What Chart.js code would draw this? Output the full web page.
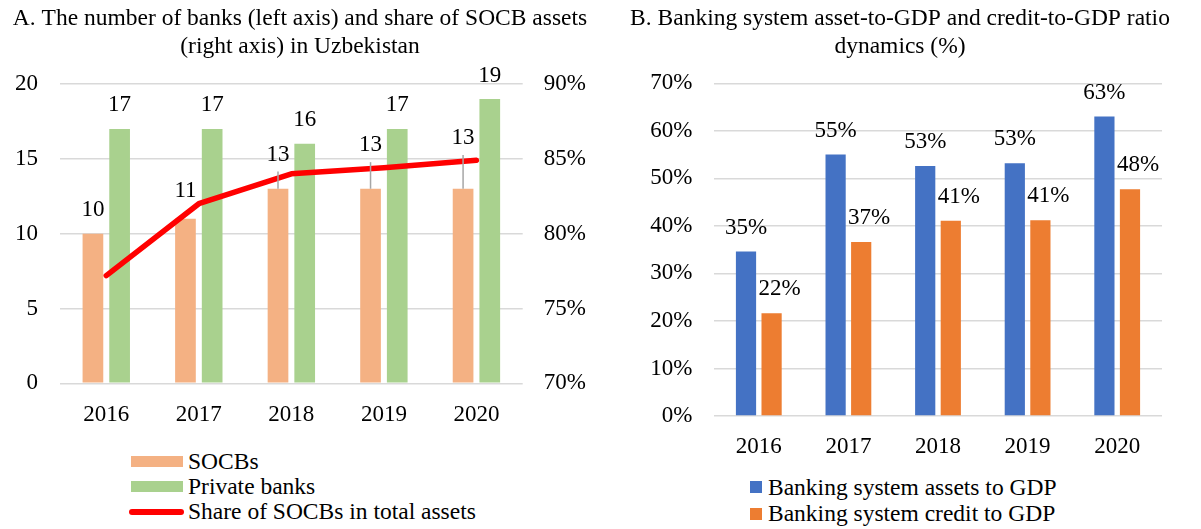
<!DOCTYPE html>
<html>
<head>
<meta charset="utf-8">
<script src="https://cdn.jsdelivr.net/npm/chart.js@4.4.1/dist/chart.umd.min.js"></script>
<style>
  body { margin: 0; background: #fff; width: 1201px; height: 529px; position: relative; overflow: hidden;
         font-family: 'Liberation Serif', 'Times New Roman', serif; color: #000; }
  .chart { position: absolute; top: 0; }
  .legend { position: absolute; font-size: 23.5px; }
  .legend .row { display: flex; align-items: center; white-space: nowrap; }
  .swatch { flex: none; }
</style>
</head>
<body>
<div class="chart" style="left:0;width:600px;height:440px"><canvas id="banksChart"></canvas></div>
<div class="chart" style="left:600px;width:600px;height:473px"><canvas id="ratioChart"></canvas></div>

<div class="legend" style="left:131px;top:449px">
  <div class="row" style="height:25px"><span class="swatch" style="width:52px;height:11px;background:#f4b183;margin-right:5px"></span>SOCBs</div>
  <div class="row" style="height:25px"><span class="swatch" style="width:52px;height:11px;background:#a9d18e;margin-right:5px"></span>Private banks</div>
  <div class="row" style="height:25px"><span class="swatch" style="width:55px;height:6px;border-radius:3px;background:#ff0000;margin-left:-2px;margin-right:4px"></span>Share of SOCBs in total assets</div>
</div>
<div class="legend" style="left:750px;top:474px">
  <div class="row" style="height:26.5px"><span class="swatch" style="width:12px;height:12px;background:#4472c4;margin-right:6px"></span>Banking system assets to GDP</div>
  <div class="row" style="height:26.5px"><span class="swatch" style="width:12px;height:12px;background:#ed7d31;margin-right:6px"></span>Banking system credit to GDP</div>
</div>

<script>
const years = ['2016', '2017', '2018', '2019', '2020'];

// panel A: number of banks and SOCB share of assets
const socbBanks = [10, 11, 13, 13, 13];
const privateBanks = [17, 17, 16, 17, 19];
const socbAssetShare = [77.2, 82.0, 84.0, 84.4, 84.9];

// panel B: banking system ratios to GDP, %
const assetsToGdp = [34.6, 55.0, 52.6, 53.2, 63.0];
const creditToGdp = [21.6, 36.6, 41.1, 41.2, 47.7];

const FONT = 'Liberation Serif';
const tickFont = { family: FONT, size: 23 };
const titleFont = { family: FONT, size: 23.5, weight: 'normal', lineHeight: '28px' };
Chart.defaults.font.family = FONT;
Chart.defaults.color = '#000';

// value labels above bars; lifted over a line dataset when it runs above the bar,
// with a thin leader line back down to the bar
const barLabels = {
  id: 'barLabels',
  afterDatasetsDraw(chart, args, opts) {
    const ctx = chart.ctx;
    const lineMeta = opts.avoid != null ? chart.getDatasetMeta(opts.avoid).data : null;
    const lineYAt = (x) => {
      if (!lineMeta) return null;
      for (let k = 0; k < lineMeta.length - 1; k++) {
        const a = lineMeta[k], b = lineMeta[k + 1];
        if (x >= a.x && x <= b.x) return a.y + (b.y - a.y) * (x - a.x) / (b.x - a.x);
      }
      return null;
    };
    ctx.save();
    ctx.font = `23px "${FONT}"`;
    ctx.fillStyle = '#000';
    ctx.textAlign = 'center';
    ctx.textBaseline = 'middle';
    chart.data.datasets.forEach((ds, i) => {
      if (ds.type === 'line') return;
      const shift = (opts.shift && opts.shift[i]) || 0;
      chart.getDatasetMeta(i).data.forEach((bar, j) => {
        const top = bar.y;
        const ly = lineYAt(bar.x);
        const anchor = ly != null ? Math.min(top, ly) : top;
        const y = anchor - opts.gap;
        if (top - anchor > 10) {
          ctx.strokeStyle = '#a6a6a6';
          ctx.lineWidth = 1.5;
          ctx.beginPath();
          ctx.moveTo(bar.x, y + 17);
          ctx.lineTo(bar.x, top);
          ctx.stroke();
        }
        ctx.fillText(opts.format(ds.data[j]), bar.x + shift, y);
      });
    });
    ctx.restore();
  }
};

const gridStyle = { color: '#d9d9d9', lineWidth: 1.5, drawTicks: false };

new Chart(document.getElementById('banksChart'), {
  type: 'bar',
  plugins: [barLabels],
  data: {
    labels: years,
    datasets: [
      { label: 'SOCBs', data: socbBanks, backgroundColor: '#f4b183', yAxisID: 'y',
        categoryPercentage: 0.577, barPercentage: 0.775 },
      { label: 'Private banks', data: privateBanks, backgroundColor: '#a9d18e', yAxisID: 'y',
        categoryPercentage: 0.577, barPercentage: 0.775 },
      { type: 'line', label: 'Share of SOCBs in total assets', data: socbAssetShare, yAxisID: 'y1',
        borderColor: '#ff0000', borderWidth: 5.5, pointRadius: 0, tension: 0,
        borderCapStyle: 'round', borderJoinStyle: 'round', order: -1 }
    ]
  },
  options: {
    responsive: true,
    maintainAspectRatio: false,
    animation: false,
    layout: { padding: 0 },
    plugins: {
      legend: { display: false },
      tooltip: { enabled: false },
      title: {
        display: true,
        text: ['A. The number of banks (left axis) and share of SOCB assets', '(right axis) in Uzbekistan'],
        font: titleFont,
        color: '#000',
        padding: { top: 5, bottom: 23 }
      },
      barLabels: { gap: 23.5, avoid: 2, format: (v) => String(v) }
    },
    scales: {
      x: {
        grid: { display: false, drawTicks: false },
        border: { display: false },
        ticks: { font: tickFont, color: '#000', padding: 17.5 },
        afterFit: (s) => { s.height = 56.7; }
      },
      y: {
        position: 'left',
        min: 0, max: 20,
        grid: gridStyle,
        border: { display: false },
        ticks: { stepSize: 5, font: tickFont, color: '#000', padding: 22 },
        afterFit: (s) => { s.width = 60; }
      },
      y1: {
        position: 'right',
        min: 70, max: 90,
        grid: { display: false, drawTicks: false },
        border: { display: false },
        ticks: { stepSize: 5, font: tickFont, color: '#000', padding: 21, callback: (v) => v + '%' },
        afterFit: (s) => { s.width = 77.3; }
      }
    }
  }
});

new Chart(document.getElementById('ratioChart'), {
  type: 'bar',
  plugins: [barLabels],
  data: {
    labels: years,
    datasets: [
      { label: 'Banking system assets to GDP', data: assetsToGdp, backgroundColor: '#4472c4',
        categoryPercentage: 0.571, barPercentage: 0.79 },
      { label: 'Banking system credit to GDP', data: creditToGdp, backgroundColor: '#ed7d31',
        categoryPercentage: 0.571, barPercentage: 0.79 }
    ]
  },
  options: {
    responsive: true,
    maintainAspectRatio: false,
    animation: false,
    layout: { padding: 0 },
    plugins: {
      legend: { display: false },
      tooltip: { enabled: false },
      title: {
        display: true,
        text: ['B. Banking system asset-to-GDP and credit-to-GDP ratio', 'dynamics (%)'],
        font: titleFont,
        color: '#000',
        padding: { top: 5, bottom: 22.3 }
      },
      barLabels: { gap: 24, shift: [0, 8], format: (v) => Math.round(v) + '%' }
    },
    scales: {
      x: {
        grid: { display: false, drawTicks: false },
        border: { display: false },
        ticks: { font: tickFont, color: '#000', padding: 17.5 },
        afterFit: (s) => { s.height = 57; }
      },
      y: {
        min: 0, max: 70,
        grid: gridStyle,
        border: { display: false },
        ticks: { stepSize: 10, font: tickFont, color: '#000', padding: 21.7, callback: (v) => v + '%' },
        afterFit: (s) => { s.width = 114; }
      },
      // empty right-hand gutter so the title stays centred on the whole panel
      gutter: {
        position: 'right',
        grid: { display: false, drawTicks: false },
        border: { display: false },
        ticks: { display: false },
        afterFit: (s) => { s.width = 38; }
      }
    }
  }
});
</script>
</body>
</html>
